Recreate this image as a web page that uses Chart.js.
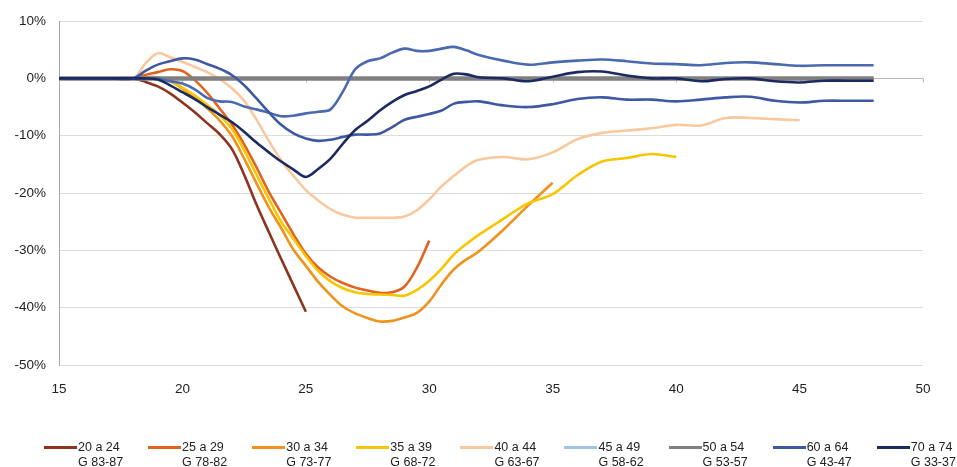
<!DOCTYPE html>
<html lang="es">
  <head>
    <meta charset="UTF-8" />
    <title>Variación por edad</title>
    <script src="https://cdn.jsdelivr.net/npm/chart.js"></script>
    <style>
      body { margin: 0; background: #fff; }
      #caja { position: relative; width: 957px; height: 467px; }
      #leyenda { position: absolute; left: 44px; top: 440px; display: flex;
        font-family: "Liberation Sans", Arial, sans-serif; font-size: 12.5px; color: #222; line-height: 15px; }
      .item { width: 104.1px; display: flex; align-items: flex-start; }
      .linea { width: 33px; height: 3px; margin-top: 6px; flex: none; }
      .txt { padding-left: 1px; white-space: nowrap; }
    </style>
  </head>
  <body>
    <div id="caja">
      <canvas id="grafico" width="957" height="467"></canvas>
      <div id="leyenda"></div>
    </div>

    <script>
      // eje x: edad (pasos de medio año en el tramo de cambio)
      const edades = [15, 16, 17, 18,
        18.5, 19, 19.5, 20, 20.5, 21, 21.5, 22, 22.5, 23, 23.5, 24, 24.5, 25, 25.5, 26, 26.5, 27,
        27.5, 28, 28.5, 29, 29.5, 30, 30.5, 31, 31.5, 32,
        33, 34, 35, 36, 37, 38, 39, 40, 41, 42, 43, 44, 45, 46, 47, 48];

      // valores en %
      const g20_24 = [0, 0, 0, 0, -0.6, -1.4, -2.6, -4.2, -5.9, -7.8, -9.7, -12.3, -16.8, -22, -26.8, -31.5, -36.1, -40.7];
      const g25_29 = [0, 0, 0, 0, 0.6, 1.1, 1.6, 1.3, -0.3, -2.5, -5.2, -8.0, -11.5, -15.5, -19.8, -23.5, -27.2, -30.6,
        -33.0, -34.6, -35.7, -36.5, -37.0, -37.4, -37.3, -36.3, -33.0, -28.3];
      const g30_34 = [0, 0, 0, 0, 0.2, 0.2, -0.4, -1.8, -3.3, -5.2, -7.3, -10.0, -14.0, -18.3, -22.5, -26.1, -29.9, -32.7,
        -35.5, -37.8, -39.8, -41.0, -41.8, -42.4, -42.3, -41.7, -40.9, -38.9, -35.9, -33.3, -31.6, -30.2,
        -26.4, -22.2, -18.2];
      const g35_39 = [0, 0, 0, 0, 0.1, 0.1, -0.5, -1.6, -3.0, -4.6, -6.4, -8.8, -12.5, -16.8, -21.0, -25.0, -28.0, -31.0,
        -33.6, -35.4, -36.6, -37.3, -37.6, -37.7, -37.8, -37.9, -36.9, -35.3, -33.2, -30.7, -28.9, -27.3,
        -24.5, -21.8, -20.2, -16.9, -14.5, -13.9, -13.2, -13.7];
      const g40_44 = [0, 0, 0, 0, 2.6, 4.4, 3.7, 2.9, 2.0, 1.1, -0.1, -1.7, -3.9, -7.2, -10.9, -14.3, -17.0, -19.5,
        -21.3, -22.8, -23.8, -24.3, -24.3, -24.3, -24.3, -24.1, -23.0, -21.1, -18.8, -17.0, -15.3, -14.2,
        -13.7, -14.1, -12.9, -10.6, -9.5, -9.1, -8.7, -8.1, -8.2, -6.9, -6.9, -7.1, -7.3];
      const g45_49 = [0, 0, 0, 0, 0, 0, 0, 0, 0, 0, 0, 0, 0, 0, 0, 0, 0, 0, 0, 0, 0, 0, 0, 0,
        0, 0, 0, 0, 0, 0, 0, 0, 0, 0, 0, 0, 0, 0, 0, 0, 0, 0, 0, 0, 0, 0, 0, 0];
      const g50_54 = [0, 0, 0, 0, 0, 0, 0, 0, 0, 0, 0, 0, 0, 0, 0, 0, 0, 0, 0, 0, 0, 0, 0, 0,
        0, 0, 0, 0, 0, 0, 0, 0, 0, 0, 0, 0, 0, 0, 0, 0, 0, 0, 0, 0, 0, 0, 0, 0];
      const g55_59 = [0, 0, 0, 0, 0, 0, -0.5, -0.9, -1.9, -3.4, -4.0, -4.1, -4.9, -5.4, -6.0, -6.6, -6.5, -6.1,
        -5.8, -5.4, -2.3, 1.6, 3.0, 3.5, 4.5, 5.2, 4.8, 4.8, 5.2, 5.5, 4.9, 4.1,
        3.1, 2.4, 2.8, 3.1, 3.3, 3.0, 2.6, 2.5, 2.3, 2.7, 2.8, 2.5, 2.2, 2.3, 2.3, 2.3];
      const g60_64 = [0, 0, 0, 0, 1.3, 2.4, 3.0, 3.5, 3.3, 2.5, 1.7, 0.6, -1.2, -3.5, -5.9, -8.1, -9.6, -10.5,
        -10.9, -10.7, -10.2, -9.8, -9.8, -9.6, -8.5, -7.2, -6.7, -6.2, -5.6, -4.4, -4.1, -4.0,
        -4.7, -5.0, -4.5, -3.6, -3.3, -3.7, -3.7, -4.0, -3.7, -3.3, -3.2, -3.9, -4.2, -3.9, -3.9, -3.9];
      const g70_74 = [0, 0, 0, 0, 0, -0.2, -1.2, -2.4, -3.6, -5.0, -6.3, -7.6, -9.3, -11.2, -12.9, -14.5, -15.9, -17.2,
        -15.8, -14.0, -11.4, -9.0, -7.4, -5.6, -4.1, -2.9, -2.2, -1.4, -0.2, 0.8, 0.7, 0.2,
        0.0, -0.5, 0.3, 1.1, 1.2, 0.5, 0.0, 0.0, -0.5, -0.1, 0.0, -0.5, -0.7, -0.4, -0.4, -0.4];

      const ticksY = [-50, -40, -30, -20, -10, 0, 10];
      const ticksX = [15, 20, 25, 30, 35, 40, 45, 50];

      const series = [
        { edad: '20 a 24', gen: 'G 83-87', datos: g20_24, color: '#8C341D' },
        { edad: '25 a 29', gen: 'G 78-82', datos: g25_29, color: '#E2631F' },
        { edad: '30 a 34', gen: 'G 73-77', datos: g30_34, color: '#F0921E' },
        { edad: '35 a 39', gen: 'G 68-72', datos: g35_39, color: '#F8C600' },
        { edad: '40 a 44', gen: 'G 63-67', datos: g40_44, color: '#F9C89C' },
        { edad: '45 a 49', gen: 'G 58-62', datos: g45_49, color: '#A3C3E6' },
        { edad: '50 a 54', gen: 'G 53-57', datos: g50_54, color: '#808080', ancho: 4.5 },
        { edad: '55 a 59', gen: '', datos: g55_59, color: '#4A69AF', oculta: true },
        { edad: '60 a 64', gen: 'G 43-47', datos: g60_64, color: '#3E58A3' },
        { edad: '70 a 74', gen: 'G 33-37', datos: g70_74, color: '#1C2A62' }
      ];

      // linea del cero con marcas (eje horizontal de Excel)
      const ejeCero = {
        id: 'ejeCero',
        beforeDatasetsDraw(chart) {
          const { ctx, scales: { x, y } } = chart;
          const y0 = Math.round(y.getPixelForValue(0)) + 0.5;
          ctx.save();
          ctx.strokeStyle = '#b5b5b5';
          ctx.lineWidth = 1;
          ctx.beginPath();
          x.ticks.forEach(t => {
            const px = Math.round(x.getPixelForValue(t.value)) + 0.5;
            ctx.moveTo(px, y0);
            ctx.lineTo(px, y0 + 4);
          });
          ctx.stroke();
          ctx.restore();
        }
      };

      const fuente = { family: '"Liberation Sans", Arial, sans-serif', size: 13.5 };

      new Chart(document.getElementById('grafico'), {
        type: 'line',
        data: {
          // como en Excel: la serie posterior queda encima
          datasets: series.map((s, i) => ({
            label: s.edad,
            data: s.datos.map((v, k) => ({ x: edades[k], y: v })),
            borderColor: s.color,
            backgroundColor: s.color,
            borderWidth: s.ancho || 2.6,
            pointRadius: 0,
            tension: 0.35,
            fill: false,
            order: series.length - i
          }))
        },
        options: {
          responsive: false,
          animation: false,
          layout: { padding: { left: 0, top: 19, right: 34, bottom: 72 } },
          plugins: { legend: { display: false }, tooltip: { enabled: false } },
          scales: {
            x: {
              type: 'linear',
              min: ticksX[0],
              max: ticksX[ticksX.length - 1],
              afterBuildTicks: s => { s.ticks = ticksX.map(v => ({ value: v })); },
              afterFit: s => { s.height = 30; },
              grid: { display: false, drawTicks: false },
              border: { display: false },
              ticks: { font: fuente, color: '#222', padding: 16, maxRotation: 0 }
            },
            y: {
              min: ticksY[0],
              max: ticksY[ticksY.length - 1],
              afterBuildTicks: s => { s.ticks = ticksY.map(v => ({ value: v })); },
              afterFit: s => { s.width = 59; },
              grid: {
                drawTicks: false,
                color: c => (c.tick && c.tick.value === 0 ? '#b5b5b5' : '#dcdcdc'),
                lineWidth: 1
              },
              border: { color: '#a8a8a8', width: 1 },
              ticks: { font: fuente, color: '#222', padding: 13, callback: v => v + '%' }
            }
          }
        },
        plugins: [ejeCero]
      });

      // leyenda abajo, dos renglones por entrada
      const leyenda = document.getElementById('leyenda');
      series.filter(s => !s.oculta).forEach(s => {
        const item = document.createElement('div');
        item.className = 'item';
        item.innerHTML = '<span class="linea" style="background:' + s.color + '"></span>' +
          '<div class="txt">' + s.edad + '<br>' + s.gen + '</div>';
        leyenda.appendChild(item);
      });
    </script>
  </body>
</html>
